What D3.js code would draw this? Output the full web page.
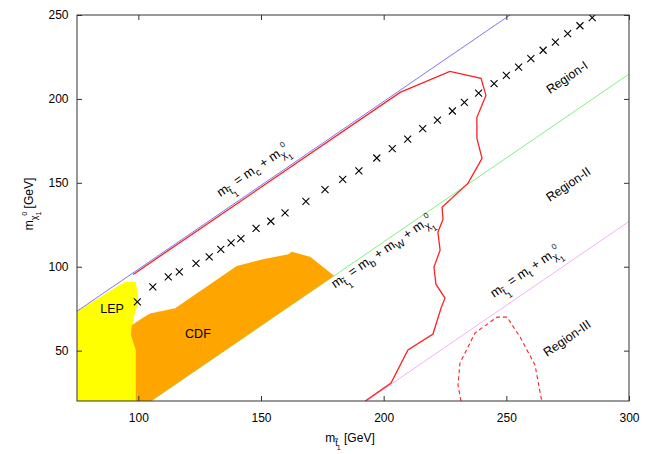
<!DOCTYPE html>
<html><head><meta charset="utf-8">
<script src="https://cdn.jsdelivr.net/npm/d3@7"></script>
<style>
body{margin:0;background:#fff}
svg{display:block}
text{font-family:"Liberation Sans",Arial,Helvetica,sans-serif;fill:#000}
</style>
</head><body>
<svg id="chart" width="648" height="454"></svg>
<script>
// ---- data ----
const xTicks = [100, 150, 200, 250, 300];
const yTicks = [50, 100, 150, 200, 250];
const mC = 1.5, mBW = 85.2, mTop = 173;           // kinematic offsets
const lepX = [75, 75, 94.6, 98.9, 99.6, 100, 98.2, 97.6, 98.9, 98.9];
const lepY = [20, 73.5, 91, 91, 86, 79, 70, 64, 50, 20];
const cdfX = [98.9, 98.9, 97, 97.3, 101.4, 104.8, 111.6, 115, 140.1, 150.3, 161.2, 162.5, 170, 179.8, 105.2];
const cdfY = [20, 50.4, 59.3, 65.2, 69.2, 72.2, 74.2, 75.2, 100.4, 104.3, 107.5, 108.9, 105.9, 94.6, 20];
const redX = [97.9, 206.7, 227, 239.7, 241.7, 238, 238, 240.1, 234.4, 223.8, 224.2, 222.1, 223, 220.5, 221.3, 225, 223.4, 220.1, 209.9, 203, 192.5];
const redY = [95.4, 203.9, 216.4, 212.3, 202.1, 189, 176.5, 164.6, 149.8, 135.5, 128.3, 120.6, 109.9, 99.8, 89.6, 81.3, 75.4, 59.9, 50.4, 30.7, 20];
const dashX = [231.5, 230.3, 231.1, 237.2, 246.2, 250.3, 255.6, 261.7, 264.1, 264.5];
const dashY = [20, 29.5, 42.6, 60.5, 70, 70, 58.1, 41.4, 22.4, 20];
const crossX = [99.6, 105.9, 112.2, 116.7, 123.5, 128.9, 133.6, 137.8, 141.8, 148, 154, 159.8, 168.3, 176.1, 183.3, 189.9, 197.2, 203.5, 209.8, 215.9, 221.9, 228, 232.9, 238.7, 245, 250, 255, 260, 265, 270, 275, 280, 285];
const crossY = [79.1, 88, 94, 97, 102, 105.9, 110.3, 114.2, 116.8, 122.8, 127.1, 132.1, 139, 146, 152.1, 157.1, 164.8, 170.4, 176, 182.3, 187.3, 192.8, 198, 203.5, 209.1, 214, 219, 224, 229, 233.9, 238.9, 243.6, 248.4];
const regionNames = ["Region-I", "Region-II", "Region-III"];
const regionX = [274.7, 275.2, 274.7];
const regionY = [212.9, 149.2, 57.5];

// ---- layout ----
const W = 648, H = 454;
const m = {l: 77, r: 19, t: 15, b: 53};
const svg = d3.select("#chart");
const x = d3.scaleLinear([75, 300], [m.l, W - m.r]);
const y = d3.scaleLinear([20, 250], [H - m.b, m.t]);
const ang = -Math.atan((y(0) - y(1)) / (x(1) - x(0))) * 180 / Math.PI;

svg.append("defs").append("clipPath").attr("id", "clip")
  .append("rect").attr("x", m.l).attr("y", m.t)
  .attr("width", W - m.l - m.r).attr("height", H - m.t - m.b);
const plot = svg.append("g").attr("clip-path", "url(#clip)");

const line = d3.line().x(d => x(d[0])).y(d => y(d[1]));
const zip = (a, b) => a.map((v, i) => [v, b[i]]);
const diag = off => [[75, 75 - off], [300, 300 - off]];

// LEP region
plot.append("path").attr("d", line(zip(lepX, lepY)) + "Z").attr("fill", "#ffff00");
// green line under CDF
plot.append("path").attr("d", line(diag(mBW))).attr("stroke", "#80f080").attr("stroke-width", 1).attr("fill", "none");
// CDF region
plot.append("path").attr("d", line(zip(cdfX, cdfY)) + "Z").attr("fill", "#ffa500");
// blue & pink lines
plot.append("path").attr("d", line(diag(mC))).attr("stroke", "#7878ff").attr("stroke-width", 1).attr("fill", "none");
plot.append("path").attr("d", line(diag(mTop))).attr("stroke", "#f4b0f4").attr("stroke-width", 1).attr("fill", "none");
// red contours
plot.append("path").attr("d", line(zip(redX, redY))).attr("stroke", "#ff2020").attr("stroke-width", 1.3).attr("fill", "none");
plot.append("path").attr("d", line(zip(dashX, dashY))).attr("stroke", "#ff2020").attr("stroke-width", 1.1)
  .attr("stroke-dasharray", "4,3").attr("fill", "none");
// crosses
plot.append("g").selectAll("path").data(zip(crossX, crossY)).join("path")
  .attr("transform", d => `translate(${x(d[0])},${y(d[1])})`)
  .attr("d", "M-3.5,-3.5L3.5,3.5M-3.5,3.5L3.5,-3.5").attr("stroke", "#000").attr("stroke-width", 1.1);

// rich text helper: segs = [text, fontSize, baselineOffset, dx]
function rich(t, segs) {
  let cur = 0;
  segs.forEach(s => {
    const ts = t.append("tspan").text(s[0]).attr("font-size", s[1]).attr("dy", s[2] - cur);
    if (s[3]) ts.attr("dx", s[3]);
    cur = s[2];
  });
  return t;
}
const mSt = [["m", 13, 0], ["t\u0303", 10, 4], ["1", 8, 9, -1]];
const mChi = [["m", 13, 0], ["\u03c7", 10, 4], ["1", 8, 9, 0], ["0", 8, -6, -4.5]];
const mStA = [["m", 12, 0], ["t\u0303", 9, 4], ["1", 7, 8, -1]];
const mChiA = [["m", 12, 0], ["\u03c7", 9, 4], ["1", 7, 8, 0], ["0", 7, -6, -4]];

function lineLabel(x0, off, d, segs) {
  const t = svg.append("text")
    .attr("transform", `translate(${x(x0)},${y(x0 - off)}) rotate(${ang})`)
    .attr("y", d);
  rich(t, segs);
}
lineLabel(136.5, mC, -13, [...mSt, [" = m", 13, 0], ["c", 10, 4], [" +  m", 13, 0], ...mChi.slice(1)]);
lineLabel(177.6, mBW, 11, [...mSt, [" = m", 13, 0], ["b", 10, 4], [" + m", 13, 0], ["W", 10, 4], [" + m", 13, 0], ...mChi.slice(1)]);
lineLabel(248, mTop, -13, [...mSt, [" = m", 13, 0], ["t", 10, 4], [" +  m", 13, 0], ...mChi.slice(1)]);

// region labels
regionNames.forEach((n, i) => {
  svg.append("text").attr("transform", `translate(${x(regionX[i])},${y(regionY[i])}) rotate(${ang})`)
    .attr("text-anchor", "middle").attr("dy", "0.35em").attr("font-size", 12.5).text(n);
});
svg.append("text").attr("x", x(89.3)).attr("y", y(74.8)).attr("dy", "0.35em").attr("text-anchor", "middle").attr("font-size", 12.5).text("LEP");
svg.append("text").attr("x", x(124.3)).attr("y", y(59.9)).attr("dy", "0.35em").attr("text-anchor", "middle").attr("font-size", 12.5).text("CDF");

// axes
const tc = "#333";
function styleAxis(g) {
  g.select(".domain").remove();
  g.selectAll(".tick line").attr("stroke", tc);
  g.selectAll(".tick text").attr("font-size", 12).attr("fill", "#000")
    .attr("font-family", '"Liberation Sans",Arial,sans-serif');
}
svg.append("g").attr("transform", `translate(0,${H - m.b})`)
  .call(d3.axisBottom(x).tickValues(xTicks).tickSize(-5).tickPadding(12)).call(styleAxis);
svg.append("g").attr("transform", `translate(0,${m.t})`)
  .call(d3.axisTop(x).tickValues(xTicks).tickSize(-5).tickFormat("")).call(styleAxis);
svg.append("g").attr("transform", `translate(${m.l},0)`)
  .call(d3.axisLeft(y).tickValues(yTicks).tickSize(-5).tickPadding(8.5)).call(styleAxis);
svg.append("g").attr("transform", `translate(${W - m.r},0)`)
  .call(d3.axisRight(y).tickValues(yTicks).tickSize(-5).tickFormat("")).call(styleAxis);
svg.append("rect").attr("x", m.l).attr("y", m.t).attr("width", W - m.l - m.r).attr("height", H - m.t - m.b)
  .attr("fill", "none").attr("stroke", tc).attr("stroke-width", 1);

// axis titles
const xt = svg.append("text").attr("x", 0).attr("y", 442).attr("text-anchor", "middle")
  .attr("transform", `translate(${(x(75) + x(300)) / 2 - 3},0)`);
rich(xt, [...mStA, [" [GeV]", 12, 0]]);
const yt = svg.append("text").attr("text-anchor", "middle")
  .attr("transform", `translate(33,${(y(20) + y(250)) / 2 - 4}) rotate(-90)`);
rich(yt, [...mChiA, [" [GeV]", 12, 0]]);
</script>
</body></html>
